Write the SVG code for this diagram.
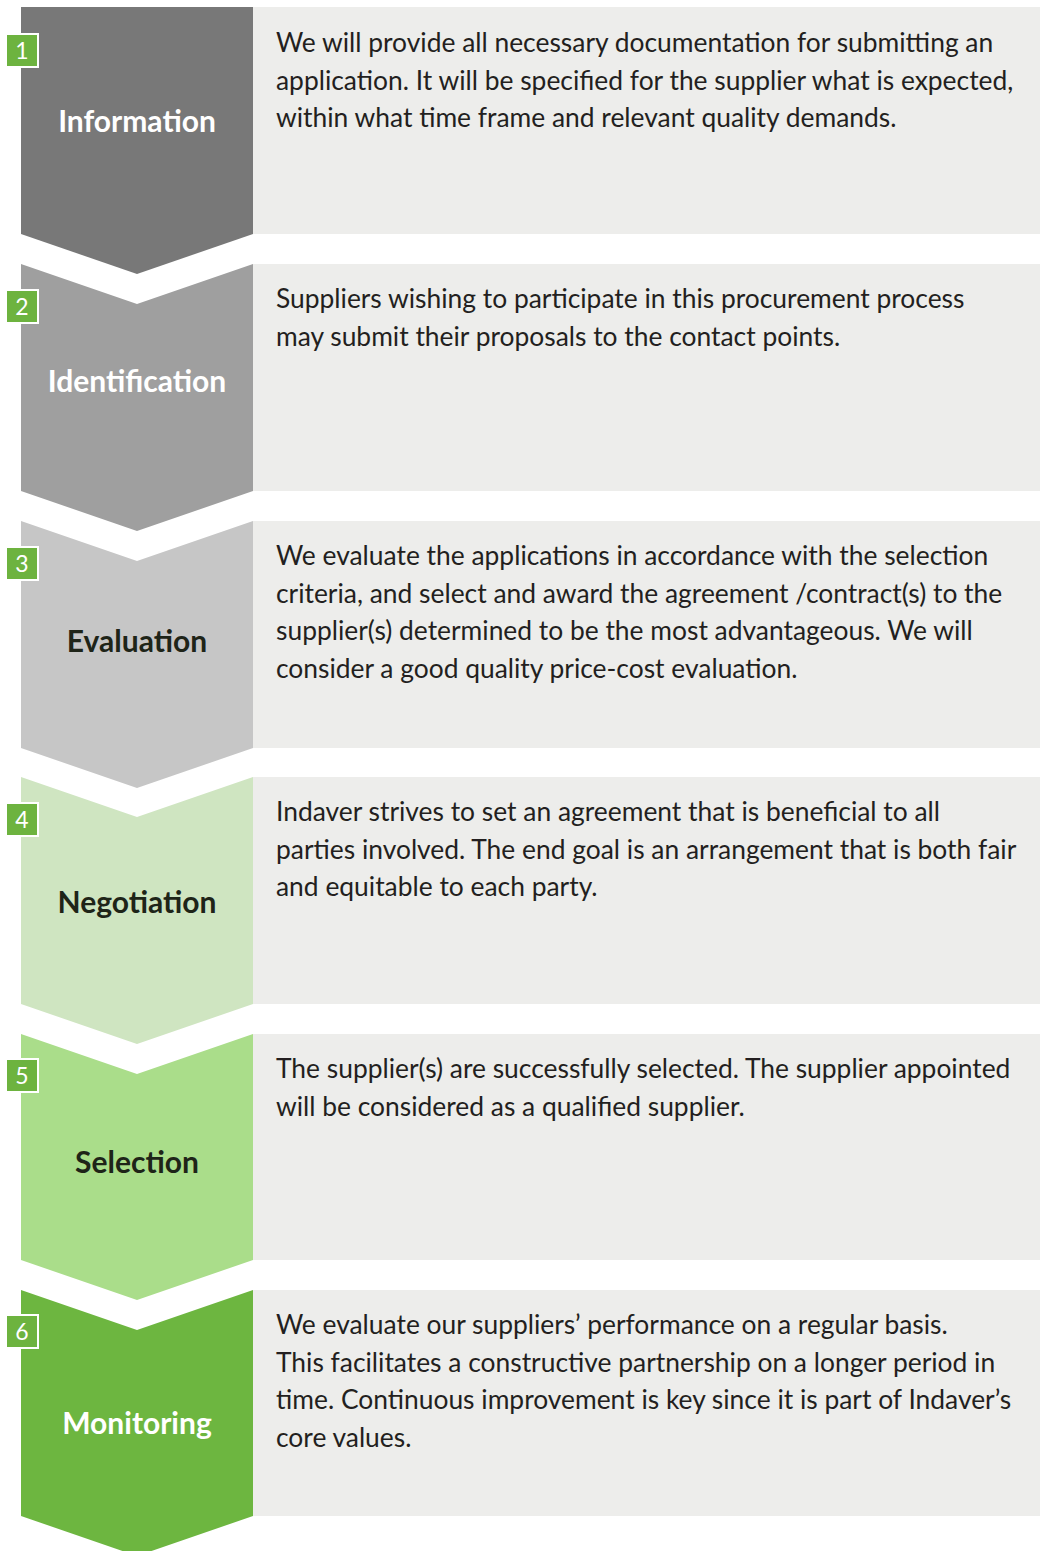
<svg xmlns="http://www.w3.org/2000/svg" width="1040" height="1551" viewBox="0 0 1040 1551">
<style>
.panel{fill:#ededeb}
.body{font-family:Lato,"Liberation Sans",sans-serif;font-size:26.4px;fill:#231f20}
.lbl{font-family:Lato,"Liberation Sans",sans-serif;font-size:30px;font-weight:bold;text-anchor:middle}
.w{fill:#ffffff}
.d{fill:#1e2418}
.badge{fill:#6db33f;stroke:#ffffff;stroke-width:2}
.num{font-family:Lato,"Liberation Sans",sans-serif;font-size:23px;fill:#ffffff;text-anchor:middle}
</style>
<rect width="1040" height="1551" fill="#ffffff"/>
<g id="step1">
<rect class="panel" x="253" y="7" width="787" height="227"/>
<path d="M21,7 H253 V234 L137,274 L21,234 Z" fill="#787878"/>
<rect class="badge" x="6" y="34" width="32" height="33"/>
<text class="num" x="22" y="59">1</text>
<text class="lbl w" x="137" y="132">Information</text>
<text class="body" x="276" y="52"><tspan x="276">We will provide all necessary documentation for submitting an</tspan><tspan x="276" dy="37.5">application. It will be specified for the supplier what is expected,</tspan><tspan x="276" dy="37.5">within what time frame and relevant quality demands.</tspan></text>
</g>
<g id="step2">
<rect class="panel" x="253" y="264" width="787" height="227"/>
<path d="M21,264 L137,304 L253,264 V491 L137,531 L21,491 Z" fill="#9f9f9f"/>
<rect class="badge" x="6" y="290" width="32" height="33"/>
<text class="num" x="22" y="315">2</text>
<text class="lbl w" x="137" y="392">Identification</text>
<text class="body" x="276" y="308"><tspan x="276">Suppliers wishing to participate in this procurement process</tspan><tspan x="276" dy="37.5">may submit their proposals to the contact points.</tspan></text>
</g>
<g id="step3">
<rect class="panel" x="253" y="521" width="787" height="227"/>
<path d="M21,521 L137,561 L253,521 V748 L137,788 L21,748 Z" fill="#c6c6c6"/>
<rect class="badge" x="6" y="547" width="32" height="33"/>
<text class="num" x="22" y="572">3</text>
<text class="lbl d" x="137" y="652">Evaluation</text>
<text class="body" x="276" y="565"><tspan x="276">We evaluate the applications in accordance with the selection</tspan><tspan x="276" dy="37.5">criteria, and select and award the agreement /contract(s) to the</tspan><tspan x="276" dy="37.5">supplier(s) determined to be the most advantageous. We will</tspan><tspan x="276" dy="37.5">consider a good quality price-cost evaluation.</tspan></text>
</g>
<g id="step4">
<rect class="panel" x="253" y="777" width="787" height="227"/>
<path d="M21,777 L137,817 L253,777 V1004 L137,1044 L21,1004 Z" fill="#cfe5c1"/>
<rect class="badge" x="6" y="803" width="32" height="33"/>
<text class="num" x="22" y="828">4</text>
<text class="lbl d" x="137" y="913">Negotiation</text>
<text class="body" x="276" y="821"><tspan x="276">Indaver strives to set an agreement that is beneficial to all</tspan><tspan x="276" dy="37.5">parties involved. The end goal is an arrangement that is both fair</tspan><tspan x="276" dy="37.5">and equitable to each party.</tspan></text>
</g>
<g id="step5">
<rect class="panel" x="253" y="1034" width="787" height="226"/>
<path d="M21,1034 L137,1074 L253,1034 V1260 L137,1300 L21,1260 Z" fill="#aadd8a"/>
<rect class="badge" x="6" y="1059" width="32" height="33"/>
<text class="num" x="22" y="1084">5</text>
<text class="lbl d" x="137" y="1173">Selection</text>
<text class="body" x="276" y="1078"><tspan x="276">The supplier(s) are successfully selected. The supplier appointed</tspan><tspan x="276" dy="37.5">will be considered as a qualified supplier.</tspan></text>
</g>
<g id="step6">
<rect class="panel" x="253" y="1290" width="787" height="226"/>
<path d="M21,1290 L137,1330 L253,1290 V1516 L137,1556 L21,1516 Z" fill="#6db640"/>
<rect class="badge" x="6" y="1315" width="32" height="33"/>
<text class="num" x="22" y="1340">6</text>
<text class="lbl w" x="137" y="1434">Monitoring</text>
<text class="body" x="276" y="1334"><tspan x="276">We evaluate our suppliers’ performance on a regular basis.</tspan><tspan x="276" dy="37.5">This facilitates a constructive partnership on a longer period in</tspan><tspan x="276" dy="37.5">time. Continuous improvement is key since it is part of Indaver’s</tspan><tspan x="276" dy="37.5">core values.</tspan></text>
</g>
<g id="connectors"></g>
</svg>
